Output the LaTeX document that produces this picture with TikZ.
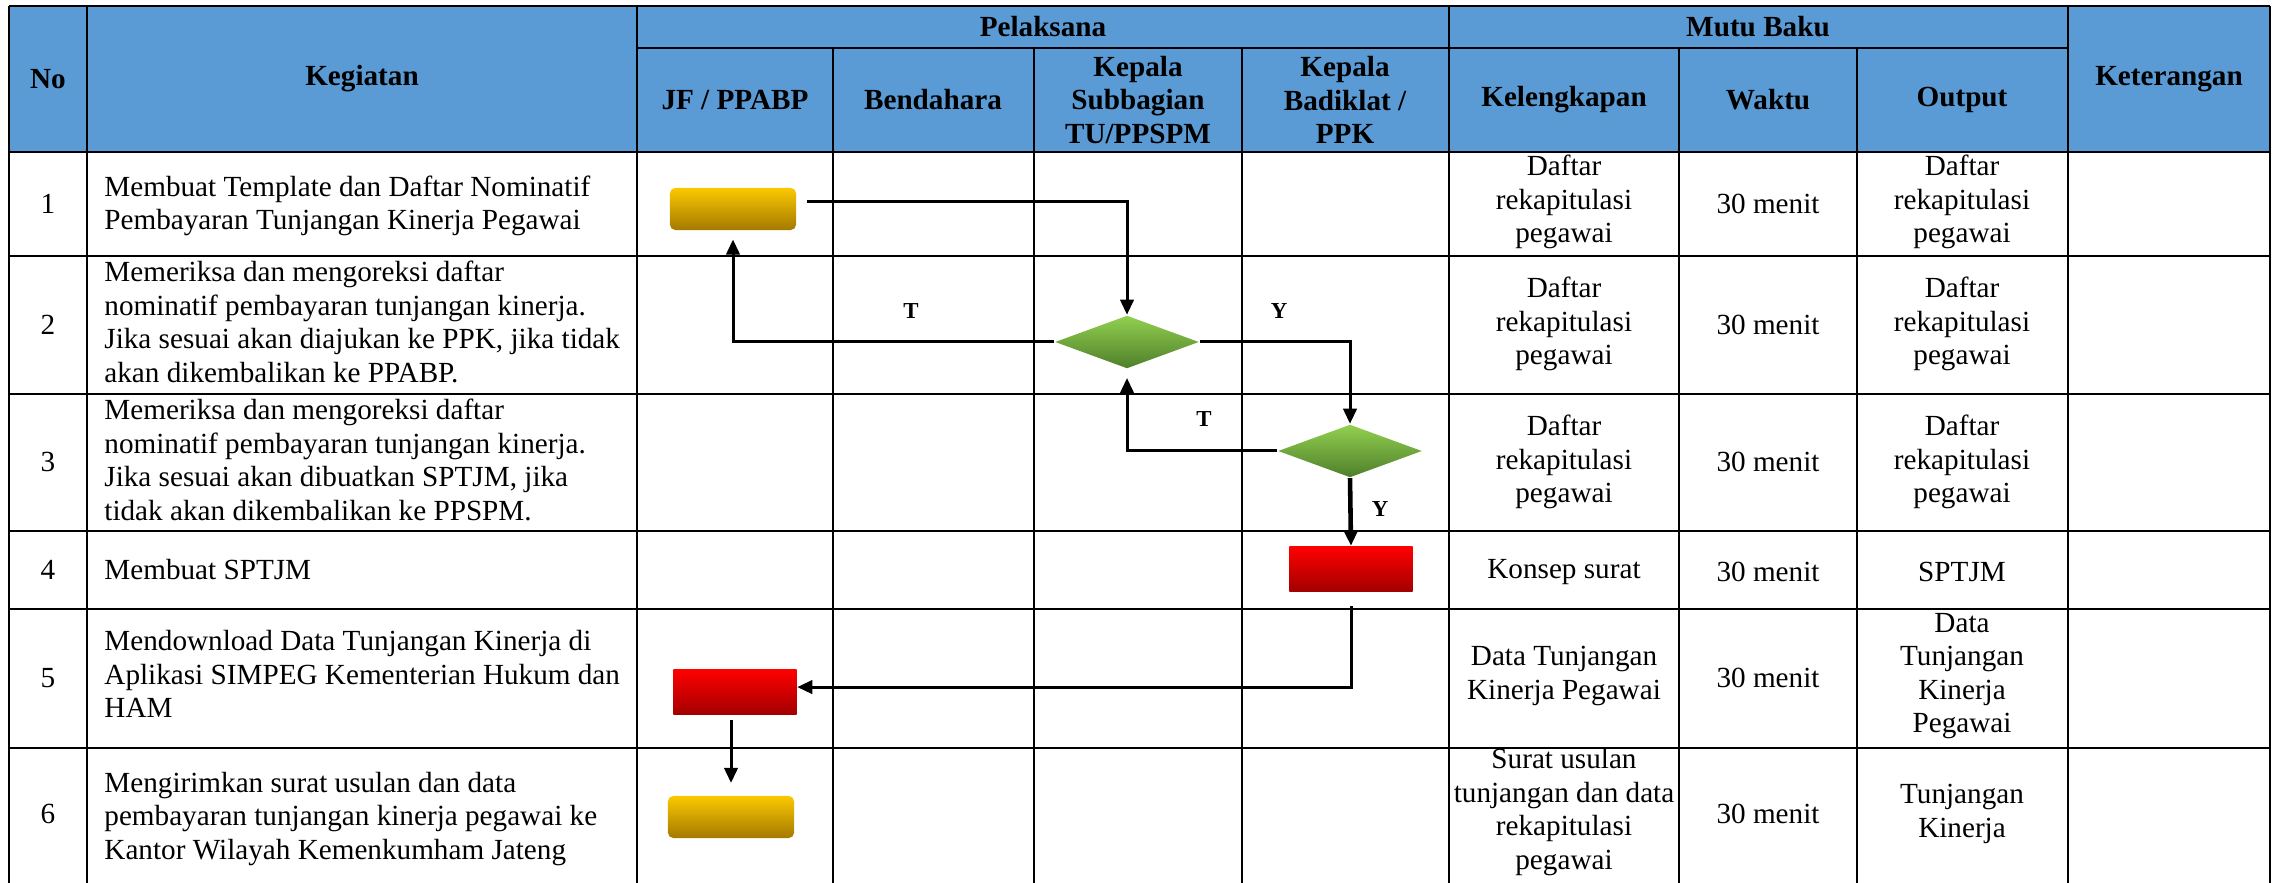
\documentclass[tikz,border=0pt]{standalone}
\usepackage{fontspec}
\setmainfont{Liberation Serif}
\usetikzlibrary{arrows.meta,shapes.geometric}

\definecolor{headblue}{HTML}{5B9BD5}
\definecolor{goldtop}{HTML}{FBC900}
\definecolor{goldbot}{HTML}{A47900}
\definecolor{greentop}{HTML}{92D050}
\definecolor{greenbot}{HTML}{4F7F2A}
\definecolor{redtop}{HTML}{FF0000}
\definecolor{redbot}{HTML}{A20000}

\begin{document}
\begin{tikzpicture}[x=0.01cm, y=-0.01cm,
        every node/.style={font=\fontsize{8.3}{9.5}\selectfont},
        grid/.style={line width=0.8pt},
        head/.style={align=center, font=\fontsize{8.3}{9.5}\selectfont\bfseries},
        cell/.style={align=center},
        task/.style={align=left, anchor=west},
        lbl/.style={font=\fontsize{6.5}{7}\selectfont\bfseries},
        startbox/.style={rectangle, rounded corners=1.5pt, minimum width=1.26cm, minimum height=0.42cm, top color=goldtop, bottom color=goldbot},
        procbox/.style={rectangle, minimum width=1.23cm, minimum height=0.45cm, top color=redtop, bottom color=redbot},
        decision/.style={diamond, aspect=2.7, inner sep=0pt, minimum width=1.44cm, minimum height=0.53cm, top color=greentop, bottom color=greenbot},
        flow/.style={line width=0.85pt, -{Triangle[length=4.3pt,width=3.8pt]}}]
        \useasboundingbox (0,0) rectangle (2273,883);

        % header
        \fill[headblue] (9,6) rectangle (2270,152);
        \draw[grid]
        (9,6) -- (2270,6)
        (637,48) -- (2068,48)
        (9,152) -- (2270,152)
        (9,256) -- (2270,256)
        (9,394) -- (2270,394)
        (9,531) -- (2270,531)
        (9,609) -- (2270,609)
        (9,748) -- (2270,748)
        (9,6) -- (9,883)
        (87,6) -- (87,883)
        (637,6) -- (637,883)
        (833,48) -- (833,883)
        (1034,48) -- (1034,883)
        (1242,48) -- (1242,883)
        (1449,6) -- (1449,883)
        (1679,48) -- (1679,883)
        (1857,48) -- (1857,883)
        (2068,6) -- (2068,883)
        (2270,6) -- (2270,883);

        \node[head] at (1043, 27)(pel){Pelaksana};
        \node[head] at (1758, 27)(mutu){Mutu Baku};
        \node[head] at (48, 79)(no){No};
        \node[head] at (362, 79)(keg){Kegiatan};
        \node[head] at (2169, 79)(ket){Keterangan};
        \node[head] at (735, 100)(jf){JF / PPABP};
        \node[head] at (933, 100)(bend){Bendahara};
        \node[head] at (1138, 100)(kasub){Kepala\\Subbagian\\TU/PPSPM};
        \node[head] at (1345, 100)(kabad){Kepala\\Badiklat /\\PPK};
        \node[head] at (1564, 100)(kel){Kelengkapan};
        \node[head] at (1768, 100)(waktu){Waktu};
        \node[head] at (1962, 100)(out){Output};

        % rows
        \node[cell] at (48, 204)(n1){1};
        \node[cell] at (48, 325)(n2){2};
        \node[cell] at (48, 462)(n3){3};
        \node[cell] at (48, 570)(n4){4};
        \node[cell] at (48, 678)(n5){5};
        \node[cell] at (48, 814)(n6){6};

        \node[task] at (92, 206)(k1){Membuat Template dan Daftar Nominatif\\Pembayaran Tunjangan Kinerja Pegawai};
        \node[task] at (92, 322)(k2){Memeriksa dan mengoreksi daftar\\nominatif pembayaran tunjangan kinerja.\\Jika sesuai akan diajukan ke PPK, jika tidak\\akan dikembalikan ke PPABP.};
        \node[task] at (92, 460)(k3){Memeriksa dan mengoreksi daftar\\nominatif pembayaran tunjangan kinerja.\\Jika sesuai akan dibuatkan SPTJM, jika\\tidak akan dikembalikan ke PPSPM.};
        \node[task] at (92, 570)(k4){Membuat SPTJM};
        \node[task] at (92, 674)(k5){Mendownload Data Tunjangan Kinerja di\\Aplikasi SIMPEG Kementerian Hukum dan\\HAM};
        \node[task] at (92, 819)(k6){Mengirimkan surat usulan dan data\\pembayaran tunjangan kinerja pegawai ke\\Kantor Wilayah Kemenkumham Jateng};

        \node[cell] at (1564, 202)(kl1){Daftar\\rekapitulasi\\pegawai};
        \node[cell] at (1564, 324)(kl2){Daftar\\rekapitulasi\\pegawai};
        \node[cell] at (1564, 462)(kl3){Daftar\\rekapitulasi\\pegawai};
        \node[cell] at (1564, 572)(kl4){Konsep surat};
        \node[cell] at (1564, 676)(kl5){Data Tunjangan\\Kinerja Pegawai};
        \node[cell] at (1564, 812)(kl6){Surat usulan\\tunjangan dan data\\rekapitulasi\\pegawai};

        \node[cell] at (1768, 204)(w1){30 menit};
        \node[cell] at (1768, 325)(w2){30 menit};
        \node[cell] at (1768, 462)(w3){30 menit};
        \node[cell] at (1768, 572)(w4){30 menit};
        \node[cell] at (1768, 678)(w5){30 menit};
        \node[cell] at (1768, 814)(w6){30 menit};

        \node[cell] at (1962, 202)(o1){Daftar\\rekapitulasi\\pegawai};
        \node[cell] at (1962, 324)(o2){Daftar\\rekapitulasi\\pegawai};
        \node[cell] at (1962, 462)(o3){Daftar\\rekapitulasi\\pegawai};
        \node[cell] at (1962, 572)(o4){SPTJM};
        \node[cell] at (1962, 676)(o5){Data\\Tunjangan\\Kinerja\\Pegawai};
        \node[cell] at (1962, 814)(o6){Tunjangan\\Kinerja};

        % flow
        \node[startbox] at (733, 209)(s1){};
        \node[decision] at (1127, 342)(d1){};
        \node[decision] at (1350, 451)(d2){};
        \node[procbox] at (1351, 569)(p1){};
        \node[procbox] at (735, 692)(p2){};
        \node[startbox] at (731, 817)(s2){};

        \node[lbl] at (911, 311)(t1){T};
        \node[lbl] at (1279, 311)(y1){Y};
        \node[lbl] at (1204, 419)(t2){T};
        \node[lbl] at (1380, 509)(y2){Y};

        \draw[flow, shorten <=3pt] ([yshift=2pt]s1.east) -| (d1.north);
        \draw[flow, shorten >=2.5pt] (d1.west) -| (s1.south);
        \draw[flow] (d1.east) -| (d2.north);
        \draw[flow, shorten >=2.5pt] (d2.west) -| (d1.south);
        \draw[flow, line width=1.3pt] (d2.south) -- (p1.north);
        \draw[flow, shorten <=4pt] (p1.south) |- ([yshift=1.4pt]p2.east);
        \draw[flow, shorten <=1.5pt, shorten >=3.5pt] (p2.south -| s2.north) -- (s2.north);
    \end{tikzpicture}
\end{document}
